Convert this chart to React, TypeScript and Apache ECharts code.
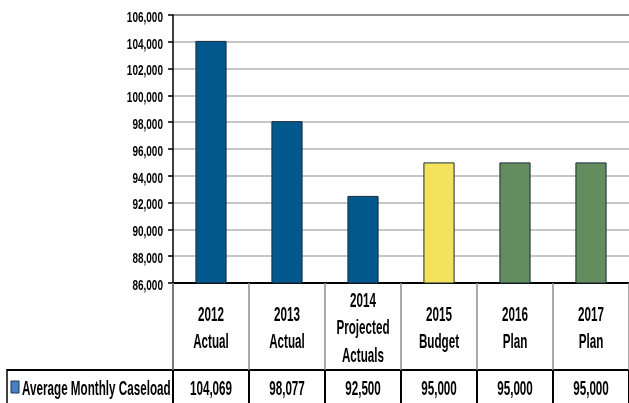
import React, { useEffect, useRef } from "react";
import * as echarts from "echarts";

const categories = ["2012\nActual", "2013\nActual", "2014\nProjected\nActuals", "2015\nBudget", "2016\nPlan", "2017\nPlan"];
const values = [104069, 98077, 92500, 95000, 95000, 95000];
const barColors = ["#00588C", "#00588C", "#00588C", "#F3E35C", "#638D5F", "#638D5F"];
const seriesName = "Average Monthly Caseload";
const yTickValues = [86000, 88000, 90000, 92000, 94000, 96000, 98000, 100000, 102000, 104000, 106000];
const yMin = 86000;
const yMax = 106000;
const yInterval = 2000;

const FONT = '"Liberation Sans", Arial, sans-serif';

export default function App() {
  const ref = useRef<HTMLDivElement>(null);
  useEffect(() => {
    if (!ref.current) return;
    const chart = echarts.init(ref.current, null, { renderer: "svg" });
    const nLines = yTickValues.length;
    const gridColors = Array.from({ length: nLines }, (_, i) => (i === nLines - 1 ? "#8f8f8f" : "#c6c6c6"));
    const fmt = (v: number) => v.toLocaleString("en-US");
    chart.setOption({
      animation: false,
      textStyle: { fontFamily: FONT },
      grid: { left: 173, top: 15, width: 462, bottom: 120, containLabel: false },
      xAxis: [
        {
          type: "category",
          data: categories,
          position: "bottom",
          axisLine: { show: true, lineStyle: { color: "#000", width: 2 } },
          axisTick: { show: true, length: 87, lineStyle: { color: "#8c8c8c", width: 1.5 } },
          axisLabel: { show: false },
          splitLine: { show: false },
        },
        {
          type: "category",
          data: values.map(fmt),
          position: "bottom",
          offset: 87,
          axisLine: { show: true, lineStyle: { color: "#000", width: 2 } },
          axisTick: { show: true, length: 33, lineStyle: { color: "#000", width: 2 } },
          axisLabel: { show: false },
          splitLine: { show: false },
        },
      ],
      yAxis: {
        type: "value",
        min: yMin,
        max: yMax,
        interval: yInterval,
        axisLine: { show: true, lineStyle: { color: "#000", width: 1.5 } },
        axisTick: { show: true, length: 5, lineStyle: { color: "#000", width: 1.5 } },
        axisLabel: { show: false },
        splitLine: { show: true, lineStyle: { color: gridColors, width: 2 } },
      },
      series: [
        {
          name: seriesName,
          type: "bar",
          data: values.map((v, i) => ({ value: v, itemStyle: { color: barColors[i] } })),
          barWidth: "41%",
          itemStyle: { borderColor: "#1c2a38", borderWidth: 1 },
        },
      ],
    });

    const tableFont = `bold 16px ${FONT}`;
    const sxT = 0.73;
    const syT = 1.25;
    const graphics: any[] = [
      { type: "line", shape: { x1: 173, y1: 283, x2: 173, y2: 403 }, style: { stroke: "#000", lineWidth: 1.5 } },
      { type: "line", shape: { x1: 7, y1: 370, x2: 174, y2: 370 }, style: { stroke: "#000", lineWidth: 2 } },
      { type: "line", shape: { x1: 7, y1: 369, x2: 7, y2: 403 }, style: { stroke: "#000", lineWidth: 1.5 } },
      { type: "rect", shape: { x: 11, y: 381, width: 8, height: 12 }, style: { fill: "#4a7fc1", stroke: "#1f3555", lineWidth: 1 } },
      {
        type: "text",
        x: 22,
        y: 388,
        scaleX: sxT,
        scaleY: syT,
        style: { text: seriesName, fill: "#000", font: tableFont, verticalAlign: "middle", align: "left" },
      },
    ];
    const yAxisX = chart.convertToPixel({ xAxisIndex: 0 }, 0) - (chart.convertToPixel({ xAxisIndex: 0 }, 1) - chart.convertToPixel({ xAxisIndex: 0 }, 0)) / 2;
    yTickValues.forEach((v) => {
      const py = chart.convertToPixel({ yAxisIndex: 0 }, v) as number;
      graphics.push({
        type: "text",
        x: yAxisX - 10,
        y: py + 1.5,
        scaleX: 0.77,
        scaleY: 1.18,
        style: { text: fmt(v), fill: "#000", font: `bold 13px ${FONT}`, verticalAlign: "middle", align: "right" },
      });
    });
    categories.forEach((c, i) => {
      const px = chart.convertToPixel({ xAxisIndex: 0 }, i) as number;
      graphics.push({
        type: "text",
        x: px,
        y: 327,
        scaleX: sxT,
        scaleY: syT,
        style: { text: c, fill: "#000", font: tableFont, lineHeight: 22, verticalAlign: "middle", align: "center" },
      });
      graphics.push({
        type: "text",
        x: px,
        y: 388,
        scaleX: sxT,
        scaleY: syT,
        style: { text: fmt(values[i]), fill: "#000", font: tableFont, verticalAlign: "middle", align: "center" },
      });
    });
    chart.setOption({ graphic: graphics });
    return () => chart.dispose();
  }, []);
  return <div ref={ref} style={{ position: "fixed", left: 0, top: 0, width: 629, height: 403 }} />;
}
